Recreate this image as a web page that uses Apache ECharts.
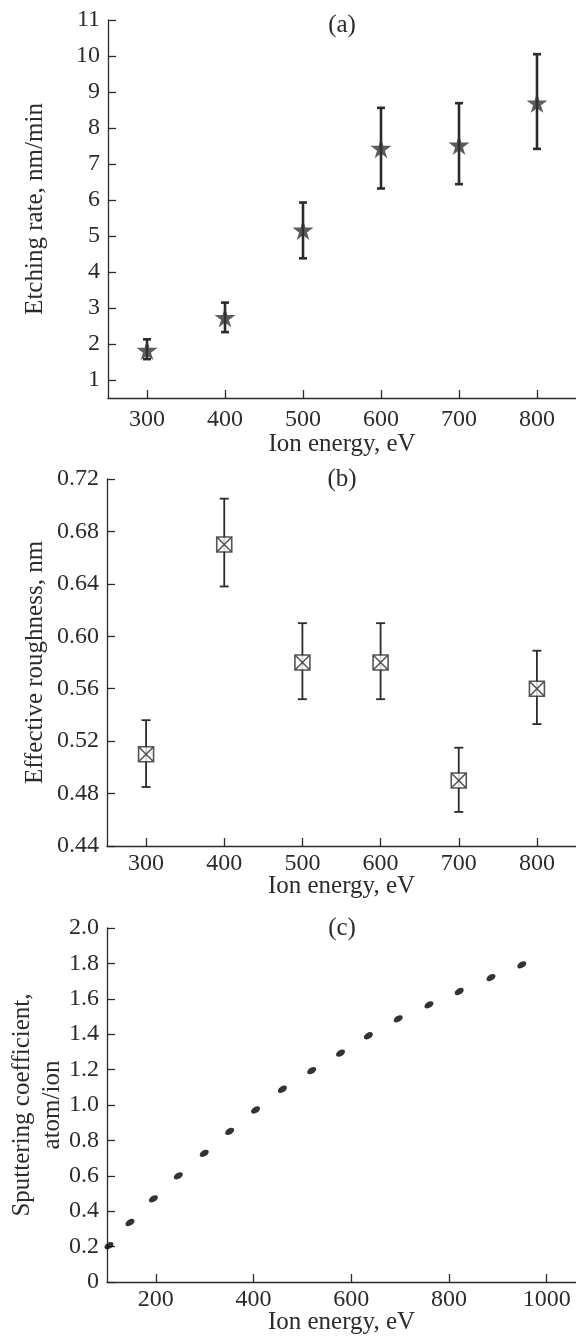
<!DOCTYPE html>
<html>
<head>
<meta charset="utf-8">
<script src="https://cdn.jsdelivr.net/npm/echarts@6/dist/echarts.min.js"></script>
<style>
html,body{margin:0;padding:0;background:#fff;}
#main{width:576px;height:1340px;}
</style>
</head>
<body>
<div id="main"></div>
<script>
// (a) etching rate
var energyAB = [300, 400, 500, 600, 700, 800];
var rateA = [1.83, 2.74, 5.17, 7.44, 7.53, 8.70];
var rateAHigh = [2.13, 3.15, 5.93, 8.56, 8.69, 10.05];
var rateALow = [1.58, 2.33, 4.38, 6.32, 6.44, 7.42];
// (b) roughness
var roughB = [0.51, 0.67, 0.58, 0.58, 0.49, 0.56];
var roughBHigh = [0.536, 0.705, 0.610, 0.610, 0.515, 0.589];
var roughBLow = [0.485, 0.638, 0.552, 0.552, 0.466, 0.533];
// (c) sputtering coefficient
var energyC = [104, 147, 195, 246, 299, 351, 404, 459, 519, 578, 635, 696, 759, 821, 886, 949];
var sputterC = [0.205, 0.336, 0.47, 0.60, 0.727, 0.851, 0.972, 1.089, 1.194, 1.293, 1.391, 1.487, 1.566, 1.641, 1.720, 1.792];
// tick labels
var ticksXAB = [300, 400, 500, 600, 700, 800];
var ticksYA = [1, 2, 3, 4, 5, 6, 7, 8, 9, 10, 11];
var ticksYB = [0.44, 0.48, 0.52, 0.56, 0.60, 0.64, 0.68, 0.72];
var ticksXC = [200, 400, 600, 800, 1000];
var ticksYC = [0, 0.2, 0.4, 0.6, 0.8, 1.0, 1.2, 1.4, 1.6, 1.8, 2.0];

var ink = '#2b2b2b';
var font = '"Liberation Serif", "Times New Roman", serif';

var chart = echarts.init(document.getElementById('main'));

function errorBar(capW, lineW){
	return function(params, api){
		var x = api.value(0);
		var hi = api.coord([x, api.value(1)]);
		var lo = api.coord([x, api.value(2)]);
		var st = {stroke: ink, lineWidth: lineW};
		return {
			type: 'group',
			children: [
				{type: 'line', shape: {x1: hi[0], y1: hi[1], x2: lo[0], y2: lo[1]}, style: st},
				{type: 'line', shape: {x1: hi[0] - capW / 2, y1: hi[1], x2: hi[0] + capW / 2, y2: hi[1]}, style: st},
				{type: 'line', shape: {x1: lo[0] - capW / 2, y1: lo[1], x2: lo[0] + capW / 2, y2: lo[1]}, style: st}
			]
		};
	};
}

function xAxis(idx, min, max, ticks){
	return {
		gridIndex: idx,
		type: 'value',
		min: min,
		max: max,
		name: 'Ion energy, eV',
		nameLocation: 'middle',
		nameGap: idx == 0 ? 34 : 28,
		nameMoveOverlap: false,
		nameTextStyle: {fontFamily: font, fontSize: 25, color: ink},
		splitLine: {show: false},
		axisLine: {lineStyle: {color: ink, width: 1.3}},
		axisTick: {inside: true, length: 8, customValues: ticks, lineStyle: {color: ink, width: 1.3}},
		axisLabel: {customValues: ticks, fontFamily: font, fontSize: 24, color: ink, margin: idx == 0 ? 10 : 6,
			formatter: function(v){ return String(v); }}
	};
}

function yAxis(idx, min, max, ticks, name, gap, fmt){
	return {
		gridIndex: idx,
		type: 'value',
		min: min,
		max: max,
		name: name,
		nameLocation: 'middle',
		nameGap: gap,
		nameMoveOverlap: false,
		nameTextStyle: {fontFamily: font, fontSize: 25, color: ink, lineHeight: 30},
		splitLine: {show: false},
		axisLine: {lineStyle: {color: ink, width: 1.3}},
		axisTick: {inside: true, length: 8, customValues: ticks, lineStyle: {color: ink, width: 1.3}},
		axisLabel: {customValues: ticks, fontFamily: font, fontSize: 24, color: ink, margin: 8, formatter: fmt}
	};
}

var star = 'path://M50,0 L61,35 L98,35 L68,57 L79,91 L50,70 L21,91 L32,57 L2,35 L39,35 Z';
var boxX = 'path://M0,0 L10,0 L10,10 L0,10 Z M0,0 L10,10 M10,0 L0,10';

option = {
	animation: false,
	backgroundColor: '#fff',
	title: [
		{text: '(a)', left: 342, top: 13, textAlign: 'center', padding: 0, textStyle: {fontFamily: font, fontSize: 25, fontWeight: 'normal', color: ink}},
		{text: '(b)', left: 342, top: 467, textAlign: 'center', padding: 0, textStyle: {fontFamily: font, fontSize: 25, fontWeight: 'normal', color: ink}},
		{text: '(c)', left: 342, top: 916, textAlign: 'center', padding: 0, textStyle: {fontFamily: font, fontSize: 25, fontWeight: 'normal', color: ink}}
	],
	grid: [
		{left: 108, top: 20, right: 0, height: 378, outerBoundsMode: 'none'},
		{left: 107, top: 479, right: 0, height: 367, outerBoundsMode: 'none'},
		{left: 107, top: 928, right: 0, height: 354, outerBoundsMode: 'none'}
	],
	xAxis: [
		xAxis(0, 250, 850, ticksXAB),
		xAxis(1, 250, 850, ticksXAB),
		xAxis(2, 100, 1060, ticksXC)
	],
	yAxis: [
		yAxis(0, 0.5, 11, ticksYA, 'Etching rate, nm/min', 58, function(v){ return String(v); }),
		yAxis(1, 0.44, 0.72, ticksYB, 'Effective roughness, nm', 57, function(v){ return v.toFixed(2); }),
		yAxis(2, 0, 2, ticksYC, 'Sputtering coefficient,\natom/ion', 40, function(v){ return v == 0 ? '0' : v.toFixed(1); })
	],
	series: [
		{
			type: 'custom',
			xAxisIndex: 0, yAxisIndex: 0,
			renderItem: errorBar(8, 2.6),
			encode: {x: 0, y: [1, 2]},
			data: energyAB.map(function(e, i){ return [e, rateAHigh[i], rateALow[i]]; }),
			z: 2
		},
		{
			type: 'scatter',
			xAxisIndex: 0, yAxisIndex: 0,
			symbol: star,
			symbolSize: [21, 20],
			itemStyle: {color: '#333'},
			data: energyAB.map(function(e, i){ return [e, rateA[i]]; }),
			z: 3
		},
		{
			type: 'custom',
			xAxisIndex: 1, yAxisIndex: 1,
			renderItem: errorBar(9, 1.8),
			encode: {x: 0, y: [1, 2]},
			data: energyAB.map(function(e, i){ return [e, roughBHigh[i], roughBLow[i]]; }),
			z: 2
		},
		{
			type: 'scatter',
			xAxisIndex: 1, yAxisIndex: 1,
			symbol: boxX,
			symbolSize: 15,
			itemStyle: {color: '#fff', borderColor: ink, borderWidth: 1.6},
			data: energyAB.map(function(e, i){ return [e, roughB[i]]; }),
			z: 3
		},
		{
			type: 'scatter',
			xAxisIndex: 2, yAxisIndex: 2,
			symbol: 'circle',
			symbolSize: [10, 6],
			symbolRotate: 32,
			itemStyle: {color: '#000'},
			data: energyC.map(function(e, i){ return [e, sputterC[i]]; })
		}
	]
};

chart.setOption(option);
</script>
</body>
</html>
